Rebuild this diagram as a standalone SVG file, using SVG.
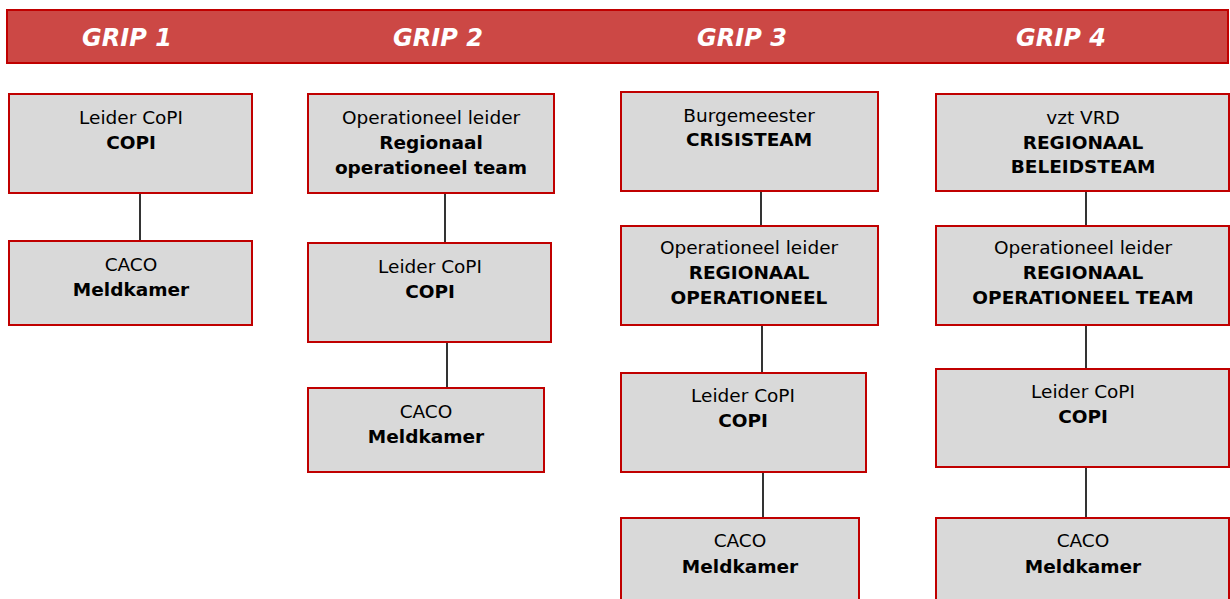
<svg xmlns="http://www.w3.org/2000/svg" width="1230" height="599" viewBox="0 0 1230 599">
<style>
.hdr{fill:#CC4845;stroke:#C00000;stroke-width:2}
.ht{fill:#fff;font-family:"DejaVu Sans",Verdana,sans-serif;font-size:24px;font-weight:bold;font-style:italic;text-anchor:middle}
.box{fill:#D9D9D9;stroke:#C00000;stroke-width:2}
.t{fill:#000;font-family:"DejaVu Sans",Verdana,sans-serif;font-size:18.5px;text-anchor:middle}
.b{font-weight:bold}
.c{stroke:#000;stroke-width:1.6;fill:none}
</style>
<rect width="1230" height="599" fill="#fff"/>
<g id="header">
<rect class="hdr" x="7" y="10" width="1221" height="53"/>
<text class="ht" x="127" y="46">GRIP 1</text>
<text class="ht" x="438" y="46">GRIP 2</text>
<text class="ht" x="742" y="46">GRIP 3</text>
<text class="ht" x="1061" y="46">GRIP 4</text>
</g>
<g id="connectors">
<line class="c" x1="140" y1="193" x2="140" y2="241"/>
<line class="c" x1="445" y1="193" x2="445" y2="243"/>
<line class="c" x1="447" y1="342" x2="447" y2="388"/>
<line class="c" x1="761" y1="191" x2="761" y2="226"/>
<line class="c" x1="762" y1="325" x2="762" y2="373"/>
<line class="c" x1="763" y1="472" x2="763" y2="518"/>
<line class="c" x1="1086" y1="191" x2="1086" y2="226"/>
<line class="c" x1="1086" y1="325" x2="1086" y2="369"/>
<line class="c" x1="1086" y1="467" x2="1086" y2="518"/>
</g>
<g id="g1-copi">
<rect class="box" x="9" y="94" width="243" height="99"/>
<text class="t" x="131" y="124">Leider CoPI</text>
<text class="t b" x="131" y="149">COPI</text>
</g>
<g id="g1-caco">
<rect class="box" x="9" y="241" width="243" height="84"/>
<text class="t" x="131" y="271">CACO</text>
<text class="t b" x="131" y="296">Meldkamer</text>
</g>
<g id="g2-rot">
<rect class="box" x="308" y="94" width="246" height="99"/>
<text class="t" x="431" y="124">Operationeel leider</text>
<text class="t b" x="431" y="149">Regionaal</text>
<text class="t b" x="431" y="174">operationeel team</text>
</g>
<g id="g2-copi">
<rect class="box" x="308" y="243" width="243" height="99"/>
<text class="t" x="430" y="273">Leider CoPI</text>
<text class="t b" x="430" y="298">COPI</text>
</g>
<g id="g2-caco">
<rect class="box" x="308" y="388" width="236" height="84"/>
<text class="t" x="426" y="418">CACO</text>
<text class="t b" x="426" y="443">Meldkamer</text>
</g>
<g id="g3-crisis">
<rect class="box" x="621" y="92" width="257" height="99"/>
<text class="t" x="749" y="122">Burgemeester</text>
<text class="t b" x="749" y="146">CRISISTEAM</text>
</g>
<g id="g3-rot">
<rect class="box" x="621" y="226" width="257" height="99"/>
<text class="t" x="749" y="254">Operationeel leider</text>
<text class="t b" x="749" y="279">REGIONAAL</text>
<text class="t b" x="749" y="304">OPERATIONEEL</text>
</g>
<g id="g3-copi">
<rect class="box" x="621" y="373" width="245" height="99"/>
<text class="t" x="743" y="402">Leider CoPI</text>
<text class="t b" x="743" y="427">COPI</text>
</g>
<g id="g3-caco">
<rect class="box" x="621" y="518" width="238" height="90"/>
<text class="t" x="740" y="547">CACO</text>
<text class="t b" x="740" y="573">Meldkamer</text>
</g>
<g id="g4-rbt">
<rect class="box" x="936" y="94" width="293" height="97"/>
<text class="t" x="1083" y="124">vzt VRD</text>
<text class="t b" x="1083" y="149">REGIONAAL</text>
<text class="t b" x="1083" y="173">BELEIDSTEAM</text>
</g>
<g id="g4-rot">
<rect class="box" x="936" y="226" width="293" height="99"/>
<text class="t" x="1083" y="254">Operationeel leider</text>
<text class="t b" x="1083" y="279">REGIONAAL</text>
<text class="t b" x="1083" y="304">OPERATIONEEL TEAM</text>
</g>
<g id="g4-copi">
<rect class="box" x="936" y="369" width="293" height="98"/>
<text class="t" x="1083" y="398">Leider CoPI</text>
<text class="t b" x="1083" y="423">COPI</text>
</g>
<g id="g4-caco">
<rect class="box" x="936" y="518" width="293" height="90"/>
<text class="t" x="1083" y="547">CACO</text>
<text class="t b" x="1083" y="573">Meldkamer</text>
</g>
</svg>
